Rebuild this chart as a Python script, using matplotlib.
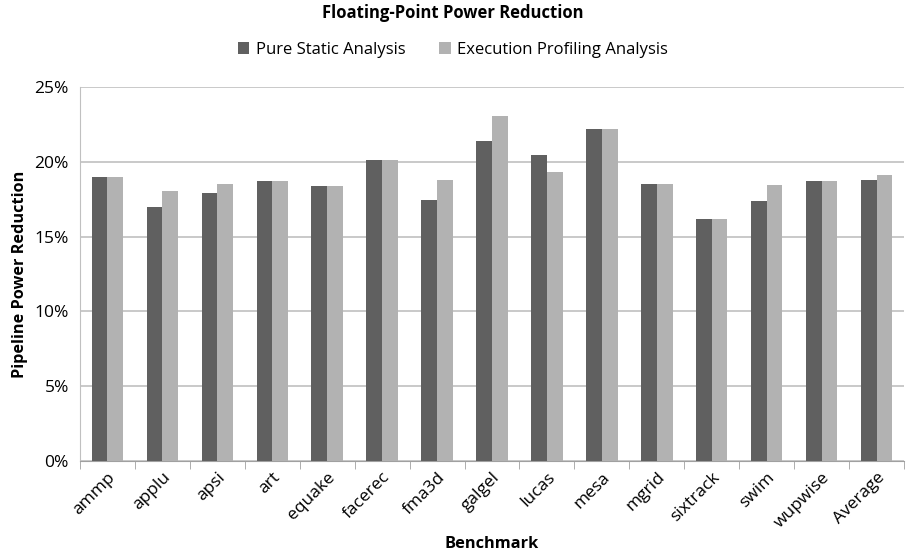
import matplotlib
matplotlib.use("Agg")
import matplotlib.pyplot as plt
import numpy as np
from matplotlib.ticker import FuncFormatter, FixedLocator

benchmarks = ["ammp", "applu", "apsi", "art", "equake", "facerec", "fma3d", "galgel",
              "lucas", "mesa", "mgrid", "sixtrack", "swim", "wupwise", "Average"]
pure_static = [19.0, 17.0, 17.9, 18.7, 18.4, 20.15, 17.45, 21.4, 20.45, 22.2, 18.5, 16.15, 17.35, 18.75, 18.8]
exec_profiling = [19.0, 18.05, 18.5, 18.7, 18.4, 20.15, 18.8, 23.05, 19.3, 22.2, 18.5, 16.15, 18.45, 18.75, 19.1]

plt.rcParams['font.family'] = ['Open Sans', 'DejaVu Sans']

fig = plt.figure(figsize=(9.06, 5.57), dpi=100)
ax = fig.add_axes([80/906, 1-461/557, 824/906, 374/557])

x = np.arange(len(benchmarks))
w = 0.286
ax.bar(x - w/2, pure_static, w, color="#606060", label="Pure Static Analysis", zorder=3)
ax.bar(x + w/2, exec_profiling, w, color="#b2b2b2", label="Execution Profiling Analysis", zorder=3)

ax.set_xlim(-0.5, len(benchmarks) - 0.5)
ax.set_ylim(0, 25)
ax.yaxis.set_major_locator(FixedLocator([0, 5, 10, 15, 20, 25]))
ax.yaxis.set_major_formatter(FuncFormatter(lambda v, p: f"{int(v)}%"))
ax.grid(axis="y", color="#c0c0c0", linewidth=1.2, zorder=0)
ax.set_axisbelow(True)

for s in ["top", "right"]:
    ax.spines[s].set_visible(False)
ax.spines["left"].set_color("#c0c0c0")
ax.spines["bottom"].set_color("#a0a0a0")
ax.tick_params(axis="y", length=0, labelsize=12.5, pad=8)
ax.set_xticks(x)
ax.set_xticklabels(benchmarks, rotation=45, ha="right", rotation_mode="anchor", fontsize=12.5)
ax.tick_params(axis="x", length=0, pad=6)
ax.set_xticks(np.arange(-0.5, len(benchmarks), 1), minor=True)
ax.tick_params(axis="x", which="minor", length=6, color="#a0a0a0")

ax.set_ylabel("Pipeline Power Reduction", fontsize=11.7, fontweight="bold", labelpad=5)
ax.set_xlabel("Benchmark", fontsize=11.8, fontweight="bold", labelpad=4)

fig.text(0.5, 1-13/557, "Floating-Point Power Reduction", ha="center", va="center",
         fontsize=12, fontweight="bold")
fig.legend(loc="center", bbox_to_anchor=(0.5, 1-50/557), ncol=2, frameon=False,
           fontsize=12, handlelength=0.7, handleheight=0.7, columnspacing=2.0, handletextpad=0.4)

fig.savefig("out.png", dpi=100)
